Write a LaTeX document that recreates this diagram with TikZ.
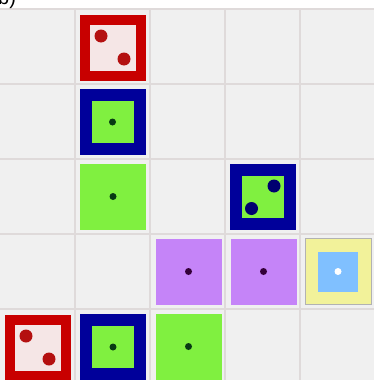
\documentclass[tikz,border=0pt]{standalone}
\usepackage{fontspec}
\setmainfont{Liberation Sans}
\usetikzlibrary{positioning}

\definecolor{cellbg}{HTML}{F0F0F0}
\definecolor{gridline}{HTML}{DFDADA}
\definecolor{tilered}{HTML}{C80000}
\definecolor{tileredin}{HTML}{F5E6E6}
\definecolor{dotred}{HTML}{B41010}
\definecolor{tileblue}{HTML}{00009A}
\definecolor{dotnavy}{HTML}{000070}
\definecolor{tilegreen}{HTML}{80F040}
\definecolor{dotgreen}{HTML}{083A14}
\definecolor{tilepurple}{HTML}{C584F8}
\definecolor{dotpurple}{HTML}{340038}
\definecolor{tileyellow}{HTML}{F2F29A}
\definecolor{tilesky}{HTML}{80C0FF}

\begin{document}
\begin{tikzpicture}[
  x=1pt, y=-1pt,
  tile/.style={rectangle, inner sep=0pt, outer sep=0pt},
  redtile/.style={tile, fill=tileredin, draw=tilered, line width=10pt, minimum size=56pt},
  bluetile/.style={tile, fill=tilegreen, draw=tileblue, line width=12pt, minimum size=54pt},
  greentile/.style={tile, fill=tilegreen, minimum size=66pt},
  purpletile/.style={tile, fill=tilepurple, minimum size=66pt},
  yellowtile/.style={tile, fill=tilesky, draw=tileyellow, line width=13pt, minimum size=53pt},
  yelframe/.style={tile, draw=gray!60, line width=0.8pt, minimum size=66pt},
  bigdot/.style={circle, inner sep=0pt, minimum size=13pt},
  smalldot/.style={circle, inner sep=0pt, minimum size=7pt}
]
\useasboundingbox (0,0) rectangle (374,380);

% board
\fill[cellbg] (0,9) rectangle (374,380);
\foreach \x in {75,150,225,300}
  \draw[gridline, line width=1.2pt] (\x,9) -- (\x,380);
\foreach \y in {9,84,159,234,309}
  \draw[gridline, line width=1.2pt] (0,\y) -- (374,\y);

\node[anchor=base west, inner sep=0pt, font=\fontsize{20}{24}\selectfont] (label) at (-2,4.5) {b)};

% tiles
\node[redtile] (red1) at (112.5,47.5) {};
\node[bluetile] (blue1) at (112.5,122) {};
\node[greentile] (green1) at (113,196.5) {};
\node[bluetile] (blue2) at (262.5,197) {};
\node[purpletile] (purple1) at (188.5,271.5) {};
\node[purpletile] (purple2) at (263.5,271.5) {};
\node[yellowtile] (sky) at (338,271.5) {};
\node[yelframe] (skyframe) at (sky) {};
\node[redtile] (red2) at (37.5,347.5) {};
\node[bluetile] (blue3) at (113,347) {};
\node[greentile] (green2) at (188.5,346.5) {};

% dots
\node[bigdot, fill=dotred] (red1a) at ([shift={(-11.5,-11.5)}]red1.center) {};
\node[bigdot, fill=dotred] (red1b) at ([shift={(11.5,11.5)}]red1.center) {};
\node[smalldot, fill=dotgreen] (blue1a) at (blue1.center) {};
\node[smalldot, fill=dotgreen] (green1a) at (green1.center) {};
\node[bigdot, fill=dotnavy] (blue2a) at ([shift={(11.5,-11)}]blue2.center) {};
\node[bigdot, fill=dotnavy] (blue2b) at ([shift={(-11,11.5)}]blue2.center) {};
\node[smalldot, fill=dotpurple] (purple1a) at (purple1.center) {};
\node[smalldot, fill=dotpurple] (purple2a) at (purple2.center) {};
\node[smalldot, fill=white] (skya) at (sky.center) {};
\node[bigdot, fill=dotred] (red2a) at ([shift={(-11.5,-11.5)}]red2.center) {};
\node[bigdot, fill=dotred] (red2b) at ([shift={(11.5,11.5)}]red2.center) {};
\node[smalldot, fill=dotgreen] (blue3a) at (blue3.center) {};
\node[smalldot, fill=dotgreen] (green2a) at (green2.center) {};
\end{tikzpicture}
\end{document}
